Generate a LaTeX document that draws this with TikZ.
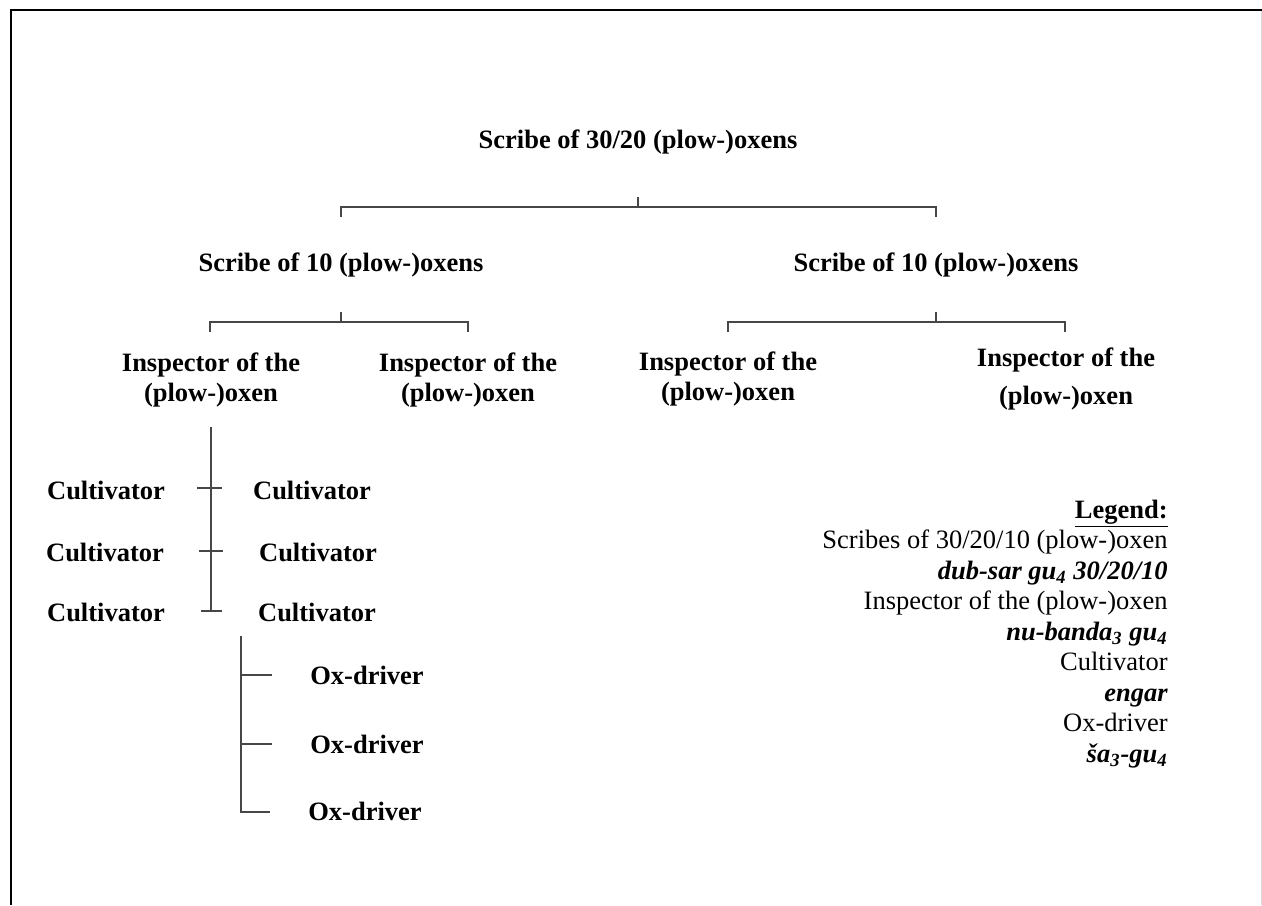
\documentclass[tikz,border=0pt]{standalone}
\usepackage{fontspec}
\setmainfont{Liberation Serif}
\begin{document}
\begin{tikzpicture}[x=0.5pt,y=-0.5pt]
\tikzset{
  lbl/.style={font=\fontsize{13.25pt}{15pt}\selectfont\bfseries, inner sep=0pt, align=center},
  lblwide/.style={font=\fontsize{13.25pt}{19pt}\selectfont\bfseries, inner sep=0pt, align=center},
  legline/.style={anchor=base east, inner sep=0pt, font=\fontsize{13.25pt}{15.25pt}\selectfont},
  conn/.style={line width=0.6pt, draw=black!72},
  frame/.style={line width=1pt, draw=black}
}
\useasboundingbox (0,0) rectangle (1262,905);
% frame
\draw[frame] (11,905) -- (11,10) -- (1262,10);
\draw[line width=0.5pt, draw=black!15] (1261,11) -- (1261,905);

% level 0
\node[lbl] (top) at (638,142) {Scribe of 30/20 (plow-)oxens};
% level 1
\node[lbl] (s10L) at (341,265) {Scribe of 10 (plow-)oxens};
\node[lbl] (s10R) at (936,265) {Scribe of 10 (plow-)oxens};
% level 2
\node[lbl] (iL1) at (211,380) {Inspector of the\\(plow-)oxen};
\node[lbl] (iL2) at (468,380) {Inspector of the\\(plow-)oxen};
\node[lbl] (iR1) at (728,379) {Inspector of the\\(plow-)oxen};
\node[lblwide] (iR2) at (1066,379) {Inspector of the\\(plow-)oxen};
% cultivators
\node[lbl] (cL1) at (106,490) {Cultivator};
\node[lbl] (cL2) at (105,552) {Cultivator};
\node[lbl] (cL3) at (106,612) {Cultivator};
\node[lbl] (cR1) at (312,490) {Cultivator};
\node[lbl] (cR2) at (318,552) {Cultivator};
\node[lbl] (cR3) at (317,612) {Cultivator};
% ox-drivers
\node[lbl] (o1) at (367,675) {Ox-driver};
\node[lbl] (o2) at (367,744) {Ox-driver};
\node[lbl] (o3) at (365,811) {Ox-driver};

% bracket coordinates
\coordinate (b0s) at (638,197);
\coordinate (b0m) at (638,207);
\coordinate (b0l) at (341,217);
\coordinate (b0r) at (936,217);
\draw[conn] (b0s) -- (b0m);
\draw[conn] (b0l) |- (b0m) -| (b0r);

\coordinate (bLs) at (341,312);
\coordinate (bLm) at (341,322);
\coordinate (bLl) at (210,332);
\coordinate (bLr) at (468,332);
\draw[conn] (bLs) -- (bLm);
\draw[conn] (bLl) |- (bLm) -| (bLr);

\coordinate (bRs) at (936,312);
\coordinate (bRm) at (936,322);
\coordinate (bRl) at (728,332);
\coordinate (bRr) at (1065,332);
\draw[conn] (bRs) -- (bRm);
\draw[conn] (bRl) |- (bRm) -| (bRr);

% cultivator tree
\coordinate (cvT) at (211,427);
\coordinate (cvB) at (211,611);
\draw[conn] (cvT) -- (cvB);
\coordinate (ct1a) at (197,488); \coordinate (ct1b) at (222,488);
\coordinate (ct2a) at (199,551); \coordinate (ct2b) at (223,551);
\coordinate (ct3a) at (201,611); \coordinate (ct3b) at (222,611);
\draw[conn] (ct1a) -- (ct1b);
\draw[conn] (ct2a) -- (ct2b);
\draw[conn] (ct3a) -- (ct3b);

% ox-driver tree
\coordinate (ovT) at (241,636);
\coordinate (ovB) at (241,812);
\coordinate (ot1) at (272,675);
\coordinate (ot2) at (272,744);
\coordinate (ot3) at (270,812);
\draw[conn] (ovT) -- (ovB) -- (ot3);
\draw[conn] (ovT |- ot1) -- (ot1);
\draw[conn] (ovT |- ot2) -- (ot2);

% legend
\node[legline, font=\fontsize{13.25pt}{15.25pt}\selectfont\bfseries] (lg0) at (1168,518) {\underline{Legend:}};
\node[legline] (lg1) at (1168,548.5) {Scribes of 30/20/10 (plow-)oxen};
\node[legline] (lg2) at (1168,579) {\bfseries\itshape dub-sar gu\textsubscript{4} 30/20/10};
\node[legline] (lg3) at (1168,609.5) {Inspector of the (plow-)oxen};
\node[legline] (lg4) at (1168,640) {\bfseries\itshape nu-banda\textsubscript{3} gu\textsubscript{4}};
\node[legline] (lg5) at (1168,670.5) {Cultivator};
\node[legline] (lg6) at (1168,701) {\bfseries\itshape engar};
\node[legline] (lg7) at (1168,731.5) {Ox-driver};
\node[legline] (lg8) at (1168,762) {\bfseries\itshape ša\textsubscript{3}-gu\textsubscript{4}};
\end{tikzpicture}
\end{document}
